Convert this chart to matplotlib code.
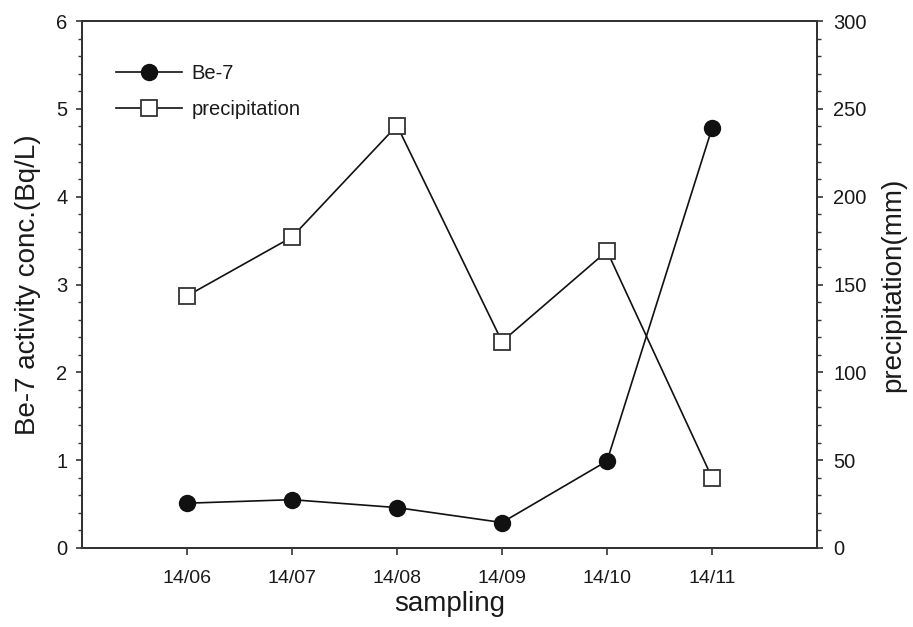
import matplotlib
matplotlib.use("Agg")
import matplotlib.pyplot as plt
from matplotlib.ticker import MultipleLocator
from matplotlib.lines import Line2D

plt.rcParams['font.family'] = ['Liberation Sans', 'DejaVu Sans']

categories = ["14/06", "14/07", "14/08", "14/09", "14/10", "14/11"]
be7 = [0.51, 0.55, 0.46, 0.29, 0.99, 4.78]
precip = [143.5, 177, 240.5, 117.5, 169, 40]

x = list(range(1, len(categories) + 1))

fig = plt.figure(figsize=(9.13, 6.27), dpi=100)
ax1 = fig.add_axes([0.0898, 0.126, 0.8051, 0.8405])
ax2 = ax1.twinx()

sp = '#333333'
txt = '#1a1a1a'

ax1.plot(x, be7, color='#111111', lw=1.2, marker='o', ms=11.5,
         mfc='#111111', mec='#111111', zorder=3)
ax2.plot(x, precip, color='#111111', lw=1.2, marker='s', ms=11,
         mfc='white', mec='#333333', mew=1.3, zorder=3)

ax1.set_xlim(0, 7)
ax1.set_ylim(0, 6)
ax2.set_ylim(0, 300)
ax1.set_xticks(x)
ax1.set_xticklabels(categories)
ax1.yaxis.set_major_locator(MultipleLocator(1))
ax1.yaxis.set_minor_locator(MultipleLocator(0.2))
ax2.yaxis.set_major_locator(MultipleLocator(50))
ax2.yaxis.set_minor_locator(MultipleLocator(10))

for ax in (ax1, ax2):
    for s in ax.spines.values():
        s.set_linewidth(1.4)
        s.set_color(sp)
ax1.tick_params(axis='x', direction='out', length=5, width=1.2, color=sp,
                labelsize=14, labelcolor=txt, pad=11, top=False)
ax1.tick_params(axis='y', which='major', direction='out', length=4.5, width=1.2,
                color=sp, labelsize=14.5, labelcolor=txt, pad=6)
ax1.tick_params(axis='y', which='minor', direction='out', length=3, width=1.0, color=sp)
ax2.tick_params(axis='y', which='major', direction='out', length=4.5, width=1.2,
                color=sp, labelsize=14.5, labelcolor=txt, pad=7)
ax2.tick_params(axis='y', which='minor', direction='out', length=3, width=1.0, color=sp)

ax1.set_xlabel('sampling', fontsize=20, color=txt, labelpad=3)
ax1.set_ylabel('Be-7 activity conc.(Bq/L)', fontsize=20, color=txt, labelpad=11)
ax2.set_ylabel('precipitation(mm)', fontsize=20, color=txt, labelpad=10)

handles = [
    Line2D([], [], color='#111111', lw=1.2, marker='o', ms=11.5, mfc='#111111', mec='#111111'),
    Line2D([], [], color='#111111', lw=1.2, marker='s', ms=11, mfc='white', mec='#333333', mew=1.3),
]
leg = ax1.legend(handles, ['Be-7', 'precipitation'], loc='upper left',
                 bbox_to_anchor=(0.046, 0.918), frameon=False, fontsize=14.5,
                 handlelength=3.3, handletextpad=0.45, labelspacing=0.85,
                 borderpad=0, borderaxespad=0)
for t in leg.get_texts():
    t.set_color(txt)

fig.savefig('out.png', dpi=100)
